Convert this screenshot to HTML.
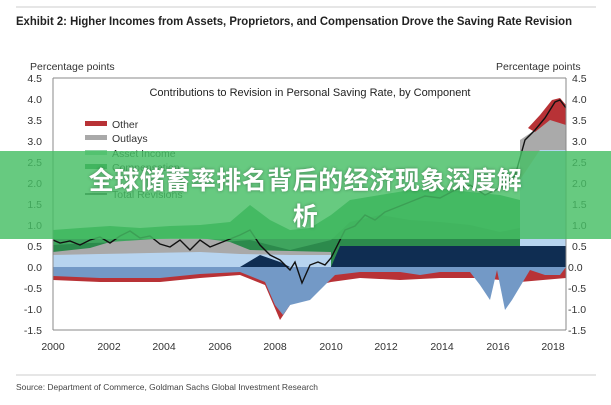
<!DOCTYPE html>
<html><head><meta charset="utf-8"><style>
body{margin:0;background:#fff;width:611px;height:400px;overflow:hidden;position:relative;font-family:"Liberation Sans",sans-serif}
.banner{position:absolute;left:0;top:151px;width:611px;height:88px;background:rgba(70,190,100,0.82);color:#fff;font-family:"Liberation Sans","Noto Sans CJK SC",sans-serif;font-weight:bold;font-size:25px;text-align:center;line-height:36px;padding-top:12px;box-sizing:border-box;text-shadow:0 0 3px rgba(0,0,0,.35);letter-spacing:0.5px}
</style></head><body>
<svg width="611" height="400" xmlns="http://www.w3.org/2000/svg" font-family="Liberation Sans, sans-serif">
<line x1="16" y1="7" x2="596" y2="7" stroke="#ccc"/>
<text x="16" y="25" font-size="11.5" font-weight="bold" fill="#222" textLength="556" lengthAdjust="spacingAndGlyphs">Exhibit 2: Higher Incomes from Assets, Proprietors, and Compensation Drove the Saving Rate Revision</text>
<text x="30" y="70" font-size="10.5" fill="#333">Percentage points</text>
<text x="496" y="70" font-size="10.5" fill="#333">Percentage points</text>
<g font-size="10.5" fill="#333" text-anchor="end">
<text x="42" y="82">4.5</text><text x="42" y="103">4.0</text><text x="42" y="124">3.5</text><text x="42" y="145">3.0</text><text x="42" y="166">2.5</text><text x="42" y="187">2.0</text><text x="42" y="208">1.5</text><text x="42" y="229">1.0</text><text x="42" y="250">0.5</text><text x="42" y="271">0.0</text><text x="42" y="292">-0.5</text><text x="42" y="313">-1.0</text><text x="42" y="334">-1.5</text>
</g>
<g font-size="10.5" fill="#333" text-anchor="start">
<text x="572" y="82">4.5</text><text x="572" y="103">4.0</text><text x="572" y="124">3.5</text><text x="572" y="145">3.0</text><text x="572" y="166">2.5</text><text x="572" y="187">2.0</text><text x="572" y="208">1.5</text><text x="572" y="229">1.0</text><text x="572" y="250">0.5</text><text x="568" y="271">0.0</text><text x="568" y="292">-0.5</text><text x="568" y="313">-1.0</text><text x="568" y="334">-1.5</text>
</g>
<g font-size="10.5" fill="#333" text-anchor="middle">
<text x="53" y="350">2000</text><text x="109" y="350">2002</text><text x="164" y="350">2004</text><text x="220" y="350">2006</text><text x="275" y="350">2008</text><text x="331" y="350">2010</text><text x="386" y="350">2012</text><text x="442" y="350">2014</text><text x="498" y="350">2016</text><text x="553" y="350">2018</text>
</g>
<polygon fill="#3fa55e" points="53,230 80,228 110,226 140,228 170,226 200,225 230,222 250,205 270,220 290,230 310,228 331,215 350,200 380,195 410,190 440,188 470,192 500,195 520,200 540,170 566,150 566,267 53,267"/>
<polygon fill="#2c8a4c" points="53,245 90,243 130,242 170,244 210,243 250,240 290,250 331,240 350,222 380,215 410,220 440,222 470,225 500,232 520,228 540,232 566,230 566,267 53,267"/>
<polygon fill="#a9a9a9" points="53,252 90,248 110,242 140,240 170,238 200,238 230,242 250,250 331,252 331,267 53,267"/>
<polygon fill="#b7d4ef" points="53,255 100,254 150,253 200,252 240,254 290,255 331,255 331,267 53,267"/>
<polygon fill="#b7d4ef" points="520,180 540,150 566,138 566,267 520,267"/>
<polygon fill="#aaa" points="520,140 535,130 550,118 566,120 566,150 540,150 520,180"/>
<polygon fill="#b83236" points="528,128 540,115 552,100 560,98 566,105 566,125 550,120 535,132"/>
<polygon fill="#0f2d52" points="240,267 260,255 280,262 290,267"/>
<polygon fill="#0f2d52" points="331,267 340,246 566,246 566,267"/>
<polygon fill="#b83236" points="53,267 566,267 566,278 520,282 500,280 480,278 440,278 400,280 360,278 331,282 300,290 280,320 265,285 240,275 200,278 160,282 100,282 53,280"/>
<polygon fill="#7399c6" points="53,267 566,267 560,275 545,275 530,270 512,300 505,310 497,270 490,300 480,285 470,272 440,272 420,275 400,272 360,272 335,275 320,290 310,300 290,305 283,315 275,305 265,282 240,272 200,274 160,278 100,278 53,276"/>
<polyline fill="none" stroke="#111" stroke-width="1.4" points="53,240 60,243 70,241 80,245 90,240 100,237 110,243 120,236 130,231 140,238 150,236 160,244 170,247 180,240 190,250 200,240 210,247 220,243 240,235 250,230 260,245 270,255 280,260 290,270 295,262 302,283 310,265 318,262 325,265 331,258 345,230 355,226 365,215 375,220 385,212 395,208 410,202 425,196 440,198 455,190 470,185 485,195 500,188 515,176 525,140 535,130 545,118 555,102 560,100 566,108"/>
<line x1="53" y1="78" x2="53" y2="330" stroke="#888"/>
<line x1="566" y1="78" x2="566" y2="330" stroke="#888"/>
<line x1="53" y1="78" x2="566" y2="78" stroke="#888"/>
<line x1="53" y1="330" x2="566" y2="330" stroke="#888"/>
<text x="310" y="96" font-size="11" fill="#222" text-anchor="middle">Contributions to Revision in Personal Saving Rate, by Component</text>
<rect x="85" y="121" width="22" height="5" fill="#b83236"/><text x="112" y="128" font-size="10.5" fill="#333">Other</text>
<rect x="85" y="135" width="22" height="5" fill="#a9a9a9"/><text x="112" y="142" font-size="10.5" fill="#333">Outlays</text>
<rect x="85" y="150" width="22" height="5" fill="#8fd3a6"/><text x="112" y="157" font-size="10.5" fill="#333">Asset Income</text>
<rect x="85" y="164" width="22" height="5" fill="#2c8a4c"/><text x="112" y="171" font-size="10.5" fill="#333">Compensation</text>
<line x1="85" y1="194" x2="107" y2="194" stroke="#111" stroke-width="1.5"/><text x="112" y="198" font-size="10.5" fill="#333">Total Revisions</text>
<line x1="16" y1="375" x2="596" y2="375" stroke="#ccc"/>
<text x="16" y="390" font-size="8.5" fill="#444" textLength="302" lengthAdjust="spacingAndGlyphs">Source: Department of Commerce, Goldman Sachs Global Investment Research</text>
</svg>
<div class="banner">全球储蓄率排名背后的经济现象深度解<br>析</div>
</body></html>
